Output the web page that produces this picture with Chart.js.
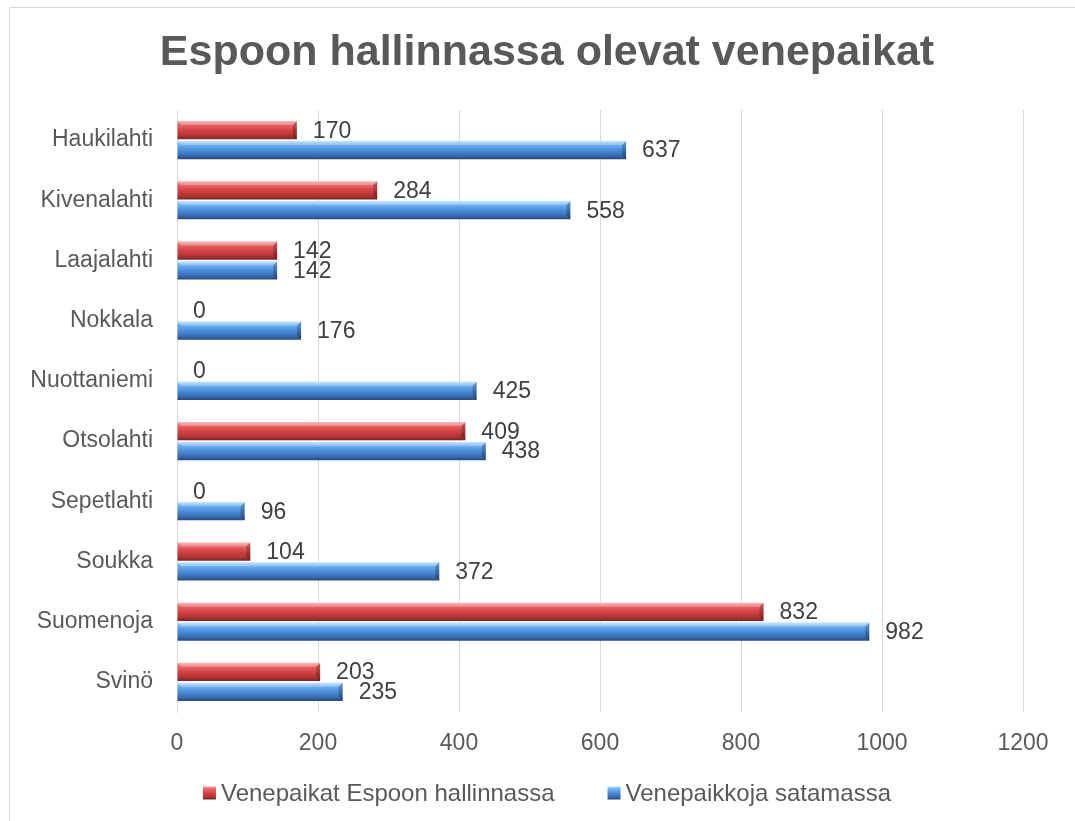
<!DOCTYPE html>
<html>
<head>
<meta charset="utf-8">
<script src="https://cdn.jsdelivr.net/npm/chart.js@4/dist/chart.umd.min.js"></script>
<style>
  html, body { margin: 0; padding: 0; background: #fff; }
  #wrap { width: 1075px; height: 821px; }
</style>
</head>
<body>
<div id="wrap"><canvas id="canvas" width="1075" height="821"></canvas></div>
<script>
var categories = ["Haukilahti", "Kivenalahti", "Laajalahti", "Nokkala", "Nuottaniemi",
	"Otsolahti", "Sepetlahti", "Soukka", "Suomenoja", "Svinö"];
var espooValues = [170, 284, 142, 0, 0, 409, 0, 104, 832, 203];
var satamaValues = [637, 558, 142, 176, 425, 438, 96, 372, 982, 235];
var seriesNames = ["Venepaikat Espoon hallinnassa", "Venepaikkoja satamassa"];
var xTicks = [0, 200, 400, 600, 800, 1000, 1200];

var FONT = '"Liberation Sans", Arial, sans-serif';

var redStops = [[0, '#f5a3a3'], [0.18, '#ec6868'], [0.5, '#d44343'], [0.8, '#b33333'], [1, '#7a2424']];
var blueStops = [[0, '#b3dcfc'], [0.18, '#6fb5f2'], [0.5, '#4a8edb'], [0.8, '#386db3'], [1, '#27497a']];

var makeGrad = function(ctx, top, bottom, stops) {
	var g = ctx.createLinearGradient(0, top, 0, bottom);
	stops.forEach(function(s) { g.addColorStop(s[0], s[1]); });
	return g;
};

// frame, gradient bars, labels and legend
var extras = {
	id: 'extras',
	beforeDraw: function(chart) {
		var ctx = chart.ctx;
		ctx.save();
		ctx.strokeStyle = '#d9d9d9';
		ctx.lineWidth = 1;
		ctx.strokeRect(9.5, 7.5, 1200, 1000);
		ctx.restore();
	},
	beforeDatasetsDraw: function(chart) {
		var ctx = chart.ctx;
		chart.data.datasets.forEach(function(ds, i) {
			var stops = i === 0 ? redStops : blueStops;
			chart.getDatasetMeta(i).data.forEach(function(bar) {
				var h = bar.height;
				bar.options.backgroundColor = makeGrad(ctx, bar.y - h / 2, bar.y + h / 2, stops);
			});
		});
	},
	afterDatasetsDraw: function(chart) {
		var ctx = chart.ctx;
		ctx.save();
		// bevelled right end of each bar
		chart.data.datasets.forEach(function(ds, i) {
			chart.getDatasetMeta(i).data.forEach(function(bar) {
				var w = bar.x - bar.base, h = bar.height, t = bar.y - h / 2, b = bar.y + h / 2;
				if (w < 6) return;
				ctx.fillStyle = 'rgba(255,255,255,0.25)';
				ctx.beginPath();
				ctx.moveTo(bar.base, t); ctx.lineTo(bar.x, t); ctx.lineTo(bar.x - 4, t + 4); ctx.lineTo(bar.base + 4, t + 4);
				ctx.closePath(); ctx.fill();
				ctx.fillStyle = 'rgba(0,0,0,0.22)';
				ctx.beginPath();
				ctx.moveTo(bar.x, t); ctx.lineTo(bar.x, b); ctx.lineTo(bar.x - 4, b - 4); ctx.lineTo(bar.x - 4, t + 4);
				ctx.closePath(); ctx.fill();
			});
		});
		ctx.font = '23px ' + FONT;
		ctx.fillStyle = '#404040';
		ctx.textAlign = 'left';
		ctx.textBaseline = 'middle';
		chart.data.datasets.forEach(function(ds, i) {
			chart.getDatasetMeta(i).data.forEach(function(bar, j) {
				ctx.fillText(String(ds.data[j]), bar.x + 16, bar.y + 1);
			});
		});
		ctx.restore();
	},
	afterDraw: function(chart) {
		var ctx = chart.ctx;
		ctx.save();
		ctx.font = '24px ' + FONT;
		var box = 13, gap = 5, between = 53;
		var w1 = ctx.measureText(seriesNames[0]).width;
		var w2 = ctx.measureText(seriesNames[1]).width;
		var total = box + gap + w1 + between + box + gap + w2;
		var x = 547 - total / 2;
		var y = 793;
		[[seriesNames[0], redStops, w1], [seriesNames[1], blueStops, w2]].forEach(function(it) {
			ctx.fillStyle = makeGrad(ctx, y - box / 2, y + box / 2, it[1]);
			ctx.fillRect(x, y - box / 2, box, box);
			ctx.fillStyle = '#595959';
			ctx.textAlign = 'left';
			ctx.textBaseline = 'middle';
			ctx.fillText(it[0], x + box + gap, y + 1);
			x += box + gap + it[2] + between;
		});
		ctx.restore();
	}
};

var perBar = function(color) {
	// scriptable, so every bar gets its own options object
	return function(context) { return color; };
};

var barChartData = {
	labels : categories,
	datasets : [
		{
			label : seriesNames[0],
			data : espooValues,
			backgroundColor : perBar('#d44343'),
			borderWidth : 0,
			yAxisID : 'y'
		},
		{
			label : seriesNames[1],
			data : satamaValues,
			backgroundColor : perBar('#4a8edb'),
			borderWidth : 0,
			yAxisID : 'y'
		} ]
};

window.onload = function() {
	var ctx = document.getElementById("canvas").getContext("2d");
	window.myBar = new Chart(ctx, {
		type : 'bar',
		data : barChartData,
		plugins : [ extras ],
		options : {
			indexAxis : 'y',
			responsive : false,
			animation : false,
			categoryPercentage : 0.66,
			barPercentage : 0.92,
			layout : {
				padding : { top : 0, right : 0, bottom : 61, left : 19 }
			},
			plugins : {
				legend : { display : false },
				tooltip : { enabled : false },
				title : {
					display : true,
					text : 'Espoon hallinnassa olevat venepaikat',
					color : '#595959',
					font : { family : FONT, size : 43, weight : 'bold' },
					padding : { top : 27, bottom : 31.4 }
				}
			},
			scales : {
				x : {
					min : 0,
					max : 1200,
					afterBuildTicks : function(axis) {
						axis.ticks = xTicks.map(function(v) { return { value : v }; });
					},
					afterFit : function(axis) { axis.height = 48; },
					grid : { color : '#d9d9d9', drawTicks : false },
					border : { display : false },
					ticks : {
						color : '#595959',
						padding : 18,
						font : { family : FONT, size : 23 },
						callback : function(v) { return String(v); }
					}
				},
				y : {
					position : 'left',
					afterFit : function(axis) { axis.width = 158; },
					grid : { display : false, drawTicks : false },
					border : { display : true, color : '#d9d9d9' },
					ticks : {
						color : '#595959',
						padding : 24,
						font : { family : FONT, size : 23 }
					}
				},
				yRight : {
					type : 'category',
					position : 'right',
					afterFit : function(axis) { axis.width = 52; },
					grid : { display : false, drawTicks : false },
					border : { display : false },
					ticks : { display : false }
				}
			}
		}
	});
};
</script>
</body>
</html>
